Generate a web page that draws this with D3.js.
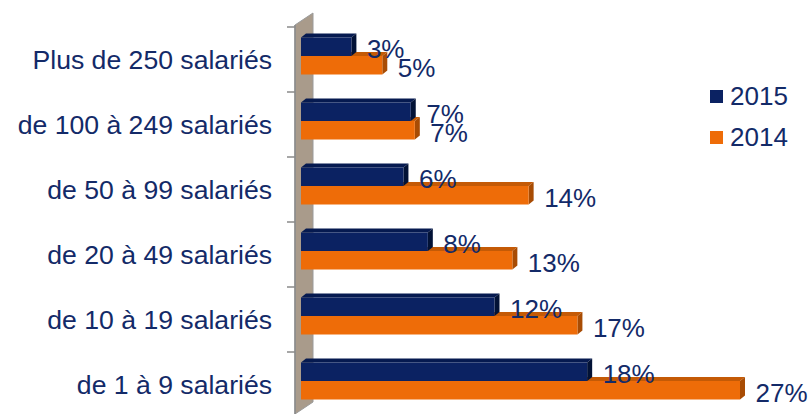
<!DOCTYPE html>
<html><head><meta charset="utf-8">
<script src="https://cdn.jsdelivr.net/npm/d3@7"></script>
<style>html,body{margin:0;padding:0;background:#fff;}svg{display:block;}</style>
</head><body>
<svg id="c" width="812" height="414"></svg>
<script>
const categories = ["Plus de 250 salariés","de 100 à 249 salariés","de 50 à 99 salariés","de 20 à 49 salariés","de 10 à 19 salariés","de 1 à 9 salariés"];
const seriesNames = ["2015","2014"];
const values2015 = [3.1, 6.75, 6.3, 7.8, 11.9, 17.6];
const values2014 = [5, 7, 14, 13, 17, 27];

const colors = {
  "2015": {front:"#0b2262", top:"#061a50", side:"#021236"},
  "2014": {front:"#ee6c08", top:"#c45a06", side:"#a84c04"}
};
const textColor = "#132a68";
const svg = d3.select("#c");
const font = "'Liberation Sans', Arial, sans-serif";

const x = d3.scaleLinear().domain([0, 27]).range([301, 740]);
const y = d3.scaleBand().domain(categories).range([27, 417]).padding(0);
const bw = y.bandwidth();
const barH = 18.5;
const off0 = 10.5;
const dx = 5, dy = -4;

// wall
svg.append("polygon")
  .attr("points", [[295,25],[313,13],[313,402],[295,414]].map(p=>p.join(",")).join(" "))
  .attr("fill", "#a99b8b").attr("stroke", "#9a9a9a").attr("stroke-width", 1);
svg.append("line").attr("x1",295).attr("x2",295).attr("y1",25).attr("y2",414)
  .attr("stroke","#8a8a8a").attr("stroke-width",1.5);

// ticks
const tickYs = categories.map(c => y(c)).concat([y.range()[1]]);
svg.selectAll("line.tick").data(tickYs).enter().append("line")
  .attr("x1",287).attr("x2",295).attr("y1",d=>d).attr("y2",d=>d)
  .attr("stroke","#8a8a8a").attr("stroke-width",1.5);

// category labels
svg.selectAll("text.cat").data(categories).enter().append("text")
  .attr("x", 272).attr("y", d => y(d) + bw/2 + 9.5)
  .attr("text-anchor","end").attr("font-family",font).attr("font-size",26.6)
  .attr("fill", textColor).text(d => d);

// bars
const rows = [];
categories.forEach((c,i) => {
  rows.push({cat:c, s:"2015", v:values2015[i], k:0});
  rows.push({cat:c, s:"2014", v:values2014[i], k:1});
});
const order = rows.slice().sort((a,b)=>b.k-a.k);
order.forEach(d => {
  const x0 = x(0), x1 = x(d.v);
  const y0 = y(d.cat) + off0 + d.k*barH, y1 = y0 + barH;
  const col = colors[d.s];
  const g = svg.append("g");
  g.append("polygon").attr("points", [[x0,y0],[x0+dx,y0+dy],[x1+dx,y0+dy],[x1,y0]].map(p=>p.join(",")).join(" "))
    .attr("fill", col.top);
  g.append("polygon").attr("points", [[x1,y0],[x1+dx,y0+dy],[x1+dx,y1+dy],[x1,y1]].map(p=>p.join(",")).join(" "))
    .attr("fill", col.side);
  g.append("rect").attr("x",x0).attr("y",y0).attr("width",x1-x0).attr("height",barH)
    .attr("fill", col.front);
});
// labels
rows.forEach(d => {
  const y0 = y(d.cat) + off0 + d.k*barH;
  svg.append("text").attr("x", x(d.v) + dx + 10.5).attr("y", y0 + barH + 2)
    .attr("font-family",font).attr("font-size",26).attr("fill",textColor)
    .text(Math.round(d.v) + "%");
});

// legend
seriesNames.forEach((s,i) => {
  const ly = 90 + i*41;
  svg.append("rect").attr("x",710).attr("y",ly).attr("width",13).attr("height",13).attr("fill",colors[s].front);
  svg.append("text").attr("x",730).attr("y",ly+15).attr("font-family",font).attr("font-size",26)
    .attr("fill",textColor).text(s);
});
</script>
</body></html>
